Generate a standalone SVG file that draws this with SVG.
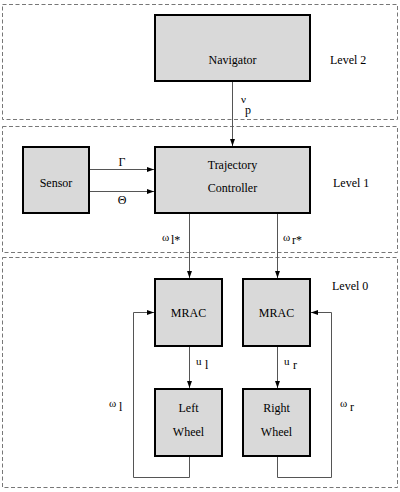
<svg xmlns="http://www.w3.org/2000/svg" width="400" height="492" viewBox="0 0 400 492">
<style>
.lvl{fill:none;stroke:#777;stroke-width:1;stroke-dasharray:4,2.5}
.box{fill:#d9d9d9;stroke:#000;stroke-width:2}
text{font-family:'Liberation Serif','DejaVu Serif',serif;font-size:12px;fill:#000}
.c{text-anchor:middle}
.s{font-size:11px}
.ln{fill:none;stroke:#555;stroke-width:1}
</style>
<defs>
<marker id="ah" viewBox="0 0 10 10" refX="10" refY="5" markerWidth="9" markerHeight="7" markerUnits="userSpaceOnUse" orient="auto">
<path d="M0,1.5 L10,5 L0,8.5 Z" fill="#000"/>
</marker>
</defs>
<g id="levels">
<rect class="lvl" x="2.5" y="4.5" width="395" height="115"/>
<rect class="lvl" x="2.5" y="126.5" width="395" height="126"/>
<rect class="lvl" x="2.5" y="257.5" width="395" height="230"/>
<text x="330" y="64">Level  2</text>
<text x="333" y="187">Level 1</text>
<text x="332" y="290">Level 0</text>
</g>
<g id="navigator">
<rect class="box" x="155" y="15" width="155" height="66"/>
<text class="c" x="232.5" y="64">Navigator</text>
</g>
<g id="trajectory-controller">
<rect class="box" x="155" y="147" width="155" height="66"/>
<text class="c" x="232.5" y="169">Trajectory</text>
<text class="c" x="232.5" y="192">Controller</text>
</g>
<g id="sensor">
<rect class="box" x="23" y="147" width="66" height="66"/>
<text class="c" x="56" y="187">Sensor</text>
</g>
<g id="mrac-left">
<rect class="box" x="155" y="279" width="67" height="67"/>
<text class="c" x="188.5" y="317">MRAC</text>
</g>
<g id="mrac-right">
<rect class="box" x="243" y="279" width="67" height="67"/>
<text class="c" x="276.5" y="317">MRAC</text>
</g>
<g id="left-wheel">
<rect class="box" x="155" y="389" width="67" height="67"/>
<text class="c" x="188.5" y="412">Left</text>
<text class="c" x="188.5" y="436">Wheel</text>
</g>
<g id="right-wheel">
<rect class="box" x="243" y="389" width="67" height="67"/>
<text class="c" x="276.5" y="412">Right</text>
<text class="c" x="276.5" y="436">Wheel</text>
</g>
<g id="connectors">
<path class="ln" d="M232.5,82 V146" marker-end="url(#ah)"/>
<path class="ln" d="M90,169.5 H154" marker-end="url(#ah)"/>
<path class="ln" d="M90,191.5 H154" marker-end="url(#ah)"/>
<path class="ln" d="M189.5,214 V278" marker-end="url(#ah)"/>
<path class="ln" d="M277.5,214 V278" marker-end="url(#ah)"/>
<path class="ln" d="M189.5,347 V388" marker-end="url(#ah)"/>
<path class="ln" d="M277.5,347 V388" marker-end="url(#ah)"/>
<path class="ln" d="M189.5,457 V477.5 H133.5 V312.5 H154" marker-end="url(#ah)"/>
<path class="ln" d="M277.5,457 V477.5 H331.5 V312.5 H311" marker-end="url(#ah)"/>
<text class="s" x="241" y="103">ν</text>
<text x="245" y="114">p</text>
<text class="c" x="122" y="166">Γ</text>
<text class="c" x="122" y="204">Θ</text>
<text class="s" x="162" y="241">ω</text>
<text x="171" y="244">l*</text>
<text class="s" x="283" y="241">ω</text>
<text x="292" y="244">r*</text>
<text class="s" x="196" y="365">u</text>
<text x="205" y="369">l</text>
<text class="s" x="284" y="365">u</text>
<text x="293" y="369">r</text>
<text class="s" x="109" y="407">ω</text>
<text x="119" y="411">l</text>
<text class="s" x="340" y="407">ω</text>
<text x="350" y="411">r</text>
</g>
</svg>
